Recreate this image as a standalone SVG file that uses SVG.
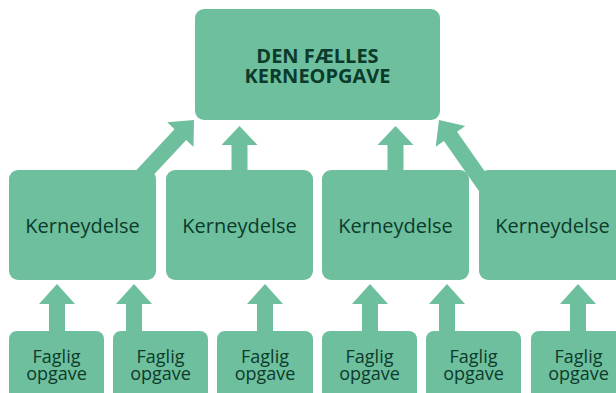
<svg xmlns="http://www.w3.org/2000/svg" width="616" height="393" viewBox="0 0 616 393">
<defs>
<style>
.box{fill:#6ebf9d}
.arr{fill:#6ebf9d}
.t{font-family:"Open Sans","Noto Sans","Liberation Sans",sans-serif;fill:#0b3b2b;text-anchor:middle}
.top{font-size:20px;font-weight:bold}
.mid{font-size:20px}
.low{font-size:18px}
</style>
<path id="da" d="M0,0 L-20,18 L-20,8 L-85,8 L-85,-8 L-20,-8 L-20,-18 Z"/>
</defs>
<rect width="616" height="393" fill="#ffffff"/>
<g id="connectors" class="arr">
<path d="M57,284 L75,304 L65,304 L65,334 L49,334 L49,304 L39,304 Z"/>
<path d="M134,284 L152,304 L142,304 L142,334 L126,334 L126,304 L116,304 Z"/>
<path d="M265,284 L283,304 L273,304 L273,334 L257,334 L257,304 L247,304 Z"/>
<path d="M370,284 L388,304 L378,304 L378,334 L362,334 L362,304 L352,304 Z"/>
<path d="M447,284 L465,304 L455,304 L455,334 L439,334 L439,304 L429,304 Z"/>
<path d="M578,284 L596,304 L586,304 L586,334 L570,334 L570,304 L560,304 Z"/>
<path d="M239.5,126 L257.5,145 L247.5,145 L247.5,174 L231.5,174 L231.5,145 L221.5,145 Z"/>
<path d="M395.5,126 L413.5,145 L403.5,145 L403.5,174 L387.5,174 L387.5,145 L377.5,145 Z"/>
<use href="#da" transform="translate(194,120) rotate(-47)"/>
<use href="#da" transform="translate(439,120) rotate(-125)"/>
</g>
<g id="top">
<rect class="box" x="195" y="9" width="245" height="111" rx="9"/>
<text class="t top" x="317.5" y="63">DEN FÆLLES</text>
<text class="t top" x="317.5" y="83">KERNEOPGAVE</text>
</g>
<g id="k1"><rect class="box" x="9" y="170" width="147" height="110" rx="9"/><text class="t mid" x="82.5" y="233">Kerneydelse</text></g>
<g id="k2"><rect class="box" x="166" y="170" width="147" height="110" rx="9"/><text class="t mid" x="239.5" y="233">Kerneydelse</text></g>
<g id="k3"><rect class="box" x="322" y="170" width="147" height="110" rx="9"/><text class="t mid" x="395.5" y="233">Kerneydelse</text></g>
<g id="k4"><rect class="box" x="479" y="170" width="147" height="110" rx="9"/><text class="t mid" x="552.5" y="233">Kerneydelse</text></g>
<g id="f1"><rect class="box" x="9" y="331" width="95" height="80" rx="8"/><text class="t low" x="56.5" y="363">Faglig</text><text class="t low" x="56.5" y="380">opgave</text></g>
<g id="f2"><rect class="box" x="113" y="331" width="95" height="80" rx="8"/><text class="t low" x="160.5" y="363">Faglig</text><text class="t low" x="160.5" y="380">opgave</text></g>
<g id="f3"><rect class="box" x="217" y="331" width="96" height="80" rx="8"/><text class="t low" x="265" y="363">Faglig</text><text class="t low" x="265" y="380">opgave</text></g>
<g id="f4"><rect class="box" x="322" y="331" width="95" height="80" rx="8"/><text class="t low" x="369.5" y="363">Faglig</text><text class="t low" x="369.5" y="380">opgave</text></g>
<g id="f5"><rect class="box" x="426" y="331" width="95" height="80" rx="8"/><text class="t low" x="473.5" y="363">Faglig</text><text class="t low" x="473.5" y="380">opgave</text></g>
<g id="f6"><rect class="box" x="531" y="331" width="95" height="80" rx="8"/><text class="t low" x="578.5" y="363">Faglig</text><text class="t low" x="578.5" y="380">opgave</text></g>
</svg>
